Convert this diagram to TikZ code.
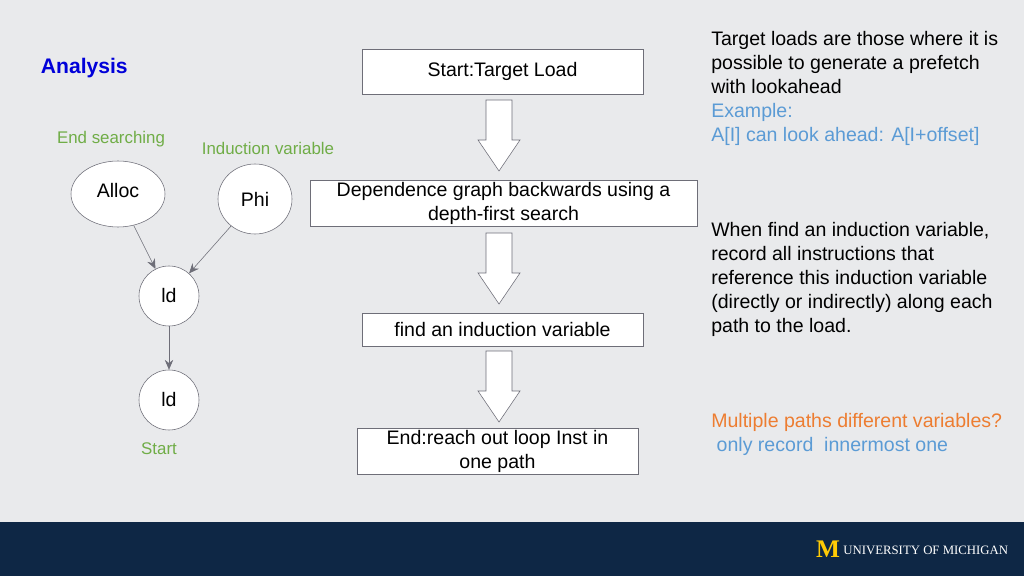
\documentclass[tikz,border=0pt]{standalone}
\usepackage{fontspec}
\setmainfont{Liberation Sans}
\newfontfamily\serifmi{Liberation Serif}
\usetikzlibrary{arrows.meta,shapes.geometric}
\definecolor{pagegray}{RGB}{233,234,236}
\definecolor{michnavy}{RGB}{14,39,69}
\definecolor{michmaize}{RGB}{255,203,5}
\definecolor{notegreen}{RGB}{112,173,71}
\definecolor{noteblue}{RGB}{91,155,213}
\definecolor{noteorange}{RGB}{237,125,49}
\definecolor{boxline}{RGB}{110,110,120}
\begin{document}
\begin{tikzpicture}[x=0.025cm,y=-0.025cm,
    every node/.style={font=\fontsize{13.9}{17}\selectfont},
    stepbox/.style={draw=boxline,fill=white,align=center,inner sep=0pt},
    var/.style={draw=boxline,fill=white,ellipse},
    note/.style={anchor=north west,align=left,inner sep=0pt},
    link/.style={draw=boxline,-{Stealth[length=7pt,width=6pt]}}]
    \useasboundingbox (0,0) rectangle (1024,576);
    \fill[pagegray] (0,0) rectangle (1024,576);
    \fill[michnavy] (0,522) rectangle (1024,576);

    % title
    \node[anchor=west,text=blue!85!black,font=\fontsize{15}{18}\selectfont\bfseries] (title) at (36,68) {Analysis};

    % flow boxes
    \node[stepbox,minimum width=281*0.025cm,minimum height=45*0.025cm] (start) at (502.5,71.5) {Start:Target Load};
    \node[stepbox,minimum width=387*0.025cm,minimum height=46*0.025cm] (dep) at (503.5,203) {Dependence graph backwards using a\\depth-first search};
    \node[stepbox,minimum width=281*0.025cm,minimum height=33*0.025cm] (find) at (502.5,329.5) {find an induction variable};
    \node[stepbox,minimum width=281*0.025cm,minimum height=46*0.025cm] (end) at (497.5,451) {End:reach out loop Inst in\\one path};

    % hollow block arrows
    \foreach \ytop in {100,233,351}
        \draw[boxline,fill=white] (486,\ytop) -- (512,\ytop) -- (512,\ytop+40) -- (520,\ytop+40)
            -- (499,\ytop+71) -- (478,\ytop+40) -- (486,\ytop+40) -- cycle;

    % dependence graph
    \node[var,minimum width=94*0.025cm,minimum height=66*0.025cm] (alloc) at (118,194) {};
    \node at (118,191) {Alloc};
    \node[var,minimum width=74*0.025cm,minimum height=70*0.025cm] (phi) at (255,199) {};
    \node at (255,199) {Phi};
    \node[var,minimum width=60*0.025cm,minimum height=60*0.025cm] (ldA) at (169,296) {};
    \node at (169,296) {ld};
    \node[var,minimum width=60*0.025cm,minimum height=60*0.025cm] (ldB) at (169,400) {};
    \node at (169,400) {ld};
    \draw[link] (alloc) -- (ldA);
    \draw[link] (phi) -- (ldA);
    \draw[link] (ldA) -- (ldB);

    \node[text=notegreen,font=\fontsize{12}{14}\selectfont] (endlbl) at (111,139) {End searching};
    \node[text=notegreen,font=\fontsize{12}{14}\selectfont] (indlbl) at (268,148) {Induction variable};
    \node[text=notegreen,font=\fontsize{12}{14}\selectfont] (startlbl) at (159,449) {Start};

    % notes
    \node[note] (note1) at (711,31) {Target loads are those where it is\\possible to generate a prefetch\\with lookahead\\\textcolor{noteblue}{Example:}\\\textcolor{noteblue}{A[I] can look ahead: A[I+offset]}};
    \node[note] (note2) at (711,222) {When find an induction variable,\\record all instructions that\\reference this induction variable\\(directly or indirectly) along each\\path to the load.};
    \node[note] (note3) at (711,413) {\textcolor{noteorange}{Multiple paths different variables?}\\\textcolor{noteblue}{\ only record\ \ innermost one}};

    % logo
    \node[text=michmaize,font=\fontsize{18}{18}\selectfont\serifmi\bfseries] (logoM) at (828,549) {M};
    \node[anchor=west,text=white,font=\fontsize{9.1}{10}\selectfont\serifmi,inner sep=0pt] (logotext) at (843,550) {UNIVERSITY OF MICHIGAN};
\end{tikzpicture}
\end{document}
